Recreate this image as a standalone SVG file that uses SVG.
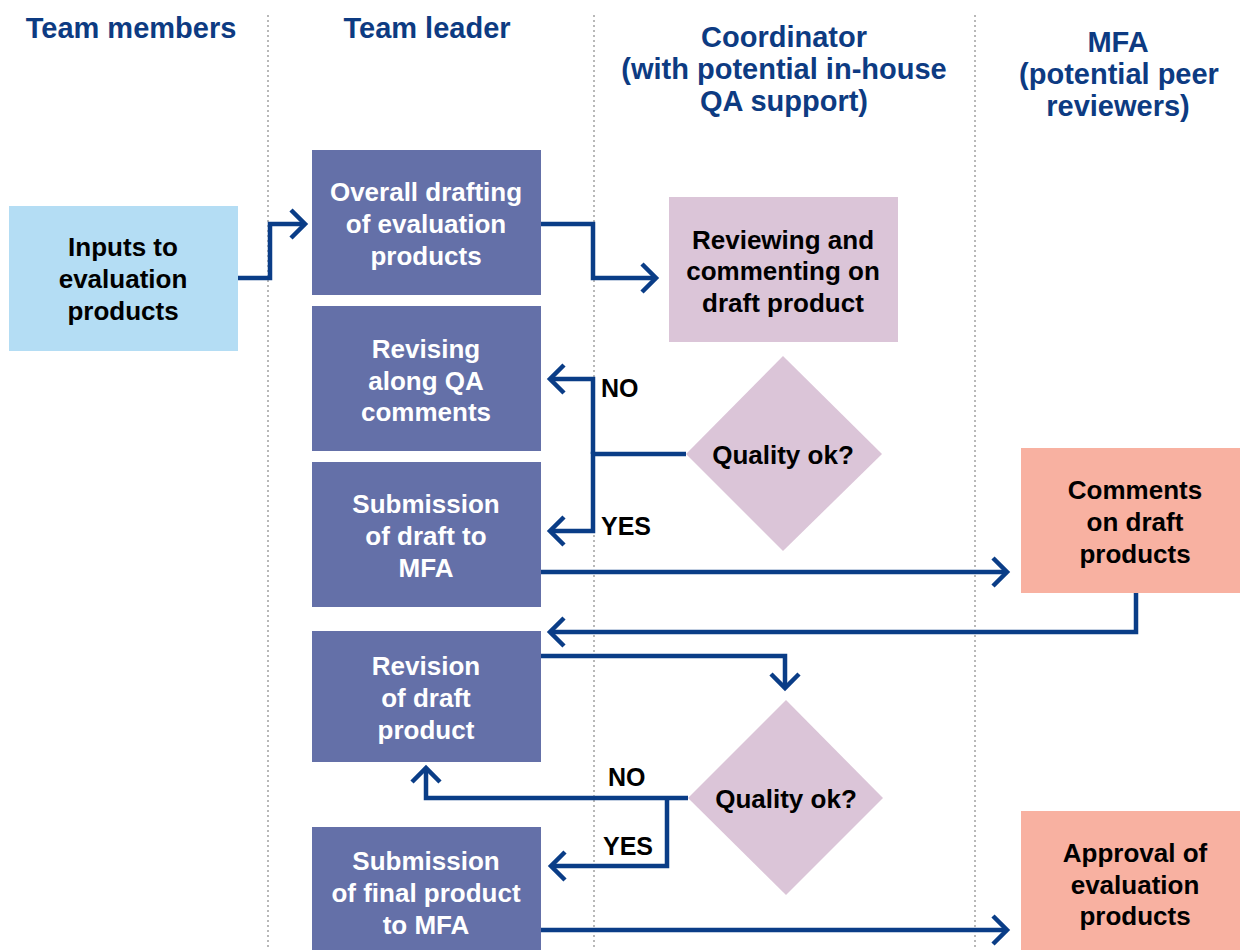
<svg xmlns="http://www.w3.org/2000/svg" width="1240" height="950" viewBox="0 0 1240 950">
<style>
.hdr{font-family:"Liberation Sans",Arial,sans-serif;font-weight:bold;font-size:29px;fill:#0d3b82;text-anchor:middle}
.t{font-family:"Liberation Sans",Arial,sans-serif;font-weight:bold;font-size:26px;text-anchor:middle}
.w{fill:#ffffff}
.k{fill:#000000}
.lbl{font-family:"Liberation Sans",Arial,sans-serif;font-weight:bold;font-size:25px;fill:#000}
.lead{fill:#6470a8}
.lane{stroke:#b8b8b8;stroke-width:2;stroke-dasharray:2 3}
.ca{fill:none;stroke:#0a3d87;stroke-width:4.5;marker-end:url(#arr)}
</style>
<defs>
<marker id="arr" markerUnits="userSpaceOnUse" viewBox="-20 -20 40 40" markerWidth="40" markerHeight="40" refX="0" refY="0" orient="auto">
<path d="M-14,-14 L0,0 L-14,14" fill="none" stroke="#0a3d87" stroke-width="4.5"/>
</marker>
</defs>
<rect width="1240" height="950" fill="#ffffff"/>
<g id="lanes">
<line class="lane" x1="268" y1="15" x2="268" y2="950"/>
<line class="lane" x1="594" y1="15" x2="594" y2="950"/>
<line class="lane" x1="975" y1="15" x2="975" y2="950"/>
</g>
<g id="headers">
<text class="hdr" x="131" y="38">Team members</text>
<text class="hdr" x="427" y="38">Team leader</text>
<text class="hdr" x="784" y="47">Coordinator</text>
<text class="hdr" x="784" y="79">(with potential in-house</text>
<text class="hdr" x="784" y="111">QA support)</text>
<text class="hdr" x="1118" y="52">MFA</text>
<text class="hdr" x="1119" y="84">(potential peer</text>
<text class="hdr" x="1118" y="116">reviewers)</text>
</g>
<g id="inputs">
<rect x="9" y="206" width="229" height="145" fill="#b4ddf4"/>
<text class="t k" x="123" y="256">Inputs to</text>
<text class="t k" x="123" y="288">evaluation</text>
<text class="t k" x="123" y="320">products</text>
</g>
<g id="overall">
<rect class="lead" x="312" y="150" width="229" height="145"/>
<text class="t w" x="426" y="201">Overall drafting</text>
<text class="t w" x="426" y="233">of evaluation</text>
<text class="t w" x="426" y="265">products</text>
</g>
<g id="reviewing">
<rect x="669" y="197" width="229" height="145" fill="#dbc5d8"/>
<text class="t k" x="783" y="249">Reviewing and</text>
<text class="t k" x="783" y="280">commenting on</text>
<text class="t k" x="783" y="312">draft product</text>
</g>
<g id="revising">
<rect class="lead" x="312" y="306" width="229" height="145"/>
<text class="t w" x="426" y="358">Revising</text>
<text class="t w" x="426" y="390">along QA</text>
<text class="t w" x="426" y="421">comments</text>
</g>
<g id="quality1">
<polygon points="783,356 882,454 783,551 686,454" fill="#dbc5d8"/>
<text class="t k" x="783" y="464">Quality ok?</text>
</g>
<g id="submitDraft">
<rect class="lead" x="312" y="462" width="229" height="145"/>
<text class="t w" x="426" y="513">Submission</text>
<text class="t w" x="426" y="545">of draft to</text>
<text class="t w" x="426" y="577">MFA</text>
</g>
<g id="comments">
<rect x="1021" y="448" width="219" height="145" fill="#f8b1a1"/>
<text class="t k" x="1135" y="499">Comments</text>
<text class="t k" x="1135" y="531">on draft</text>
<text class="t k" x="1135" y="563">products</text>
</g>
<g id="revision">
<rect class="lead" x="312" y="631" width="229" height="131"/>
<text class="t w" x="426" y="675">Revision</text>
<text class="t w" x="426" y="707">of draft</text>
<text class="t w" x="426" y="739">product</text>
</g>
<g id="quality2">
<polygon points="786,700 883,798 786,895 688,798" fill="#dbc5d8"/>
<text class="t k" x="786" y="808">Quality ok?</text>
</g>
<g id="submitFinal">
<rect class="lead" x="312" y="827" width="229" height="123"/>
<text class="t w" x="426" y="870">Submission</text>
<text class="t w" x="426" y="902">of final product</text>
<text class="t w" x="426" y="934">to MFA</text>
</g>
<g id="approval">
<rect x="1021" y="811" width="219" height="139" fill="#f8b1a1"/>
<text class="t k" x="1135" y="862">Approval of</text>
<text class="t k" x="1135" y="894">evaluation</text>
<text class="t k" x="1135" y="925">products</text>
</g>
<g id="connectors">
<path class="ca" d="M238,278 H270 V224 H305"/>
<path class="ca" d="M541,224 H593 V278 H656"/>
<path class="ca" d="M593,454 V379 H550"/>
<path class="ca" d="M686,454 H593 V531 H550"/>
<path class="ca" d="M541,572 H1007"/>
<path class="ca" d="M1136,593 V632 H550"/>
<path class="ca" d="M541,656 H785 V688"/>
<path class="ca" d="M688,798 H426 V768"/>
<path class="ca" d="M667,798 V866 H551"/>
<path class="ca" d="M541,930 H1007"/>
<text class="lbl" x="601" y="397">NO</text>
<text class="lbl" x="601" y="535">YES</text>
<text class="lbl" x="608" y="786">NO</text>
<text class="lbl" x="603" y="855">YES</text>
</g>
</svg>
